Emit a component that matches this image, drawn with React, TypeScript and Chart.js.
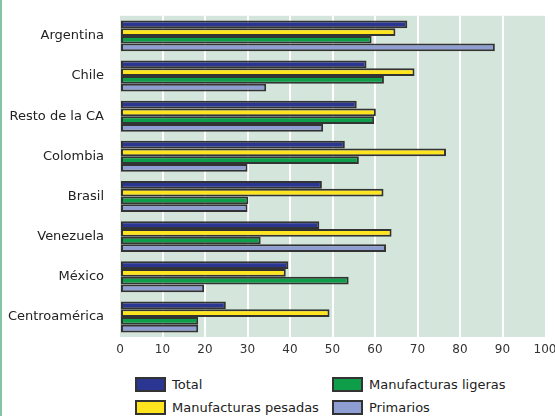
import React, { useEffect, useRef } from "react";
import { Chart, registerables } from "chart.js";

Chart.register(...registerables);

const categories = ["Argentina", "Chile", "Resto de la CA", "Colombia", "Brasil", "Venezuela", "México", "Centroamérica"];
const totalValues = [67.6, 58, 55.7, 52.9, 47.5, 46.9, 39.6, 24.9];
const pesadasValues = [64.8, 69.3, 60.2, 76.7, 62, 63.9, 39, 49.3];
const ligerasValues = [59.2, 62.1, 59.8, 56.2, 30.2, 33.1, 53.8, 18.4];
const primariosValues = [88.2, 34.4, 47.8, 30, 30, 62.6, 19.8, 18.4];
const xTicks = [0, 10, 20, 30, 40, 50, 60, 70, 80, 90, 100];

const seriesNames = ["Total", "Manufacturas pesadas", "Manufacturas ligeras", "Primarios"];
const seriesColors = ["#2B3592", "#FFE41E", "#0E9E4A", "#8E9DD2"];

const FONT = "'DejaVu Sans', sans-serif";

export default function App() {
  const ref = useRef<HTMLCanvasElement | null>(null);

  useEffect(() => {
    document.body.style.margin = "0";
    const bgPlugin = {
      id: "bg",
      beforeDraw(chart: any) {
        const { ctx, chartArea } = chart;
        ctx.save();
        ctx.fillStyle = "#D4E5DB";
        ctx.fillRect(chartArea.left, chartArea.top, chartArea.right - chartArea.left, chartArea.bottom - chartArea.top);
        ctx.restore();
      },
    };
    const values = [totalValues, pesadasValues, ligerasValues, primariosValues];
    const chart = new Chart(ref.current as HTMLCanvasElement, {
      type: "bar",
      data: {
        labels: categories,
        datasets: values.map((v, i) => ({
          label: seriesNames[i],
          data: v,
          backgroundColor: seriesColors[i],
          borderColor: "#333333",
          borderWidth: 2,
          borderSkipped: false,
          categoryPercentage: 0.77,
          barPercentage: 1,
        })),
      },
      options: {
        indexAxis: "y",
        animation: false,
        responsive: false,
        maintainAspectRatio: false,
        layout: { padding: { top: 13, right: 10, left: 0, bottom: 0 } },
        plugins: { legend: { display: false }, tooltip: { enabled: false } },
        scales: {
          x: {
            min: 0,
            max: 100,
            afterBuildTicks(scale: any) {
              scale.ticks = xTicks.map((v) => ({ value: v }));
            },
            afterFit(scale: any) {
              scale.height = 28;
              scale.paddingLeft = 0;
              scale.paddingRight = 0;
            },
            grid: {
              color: (c: any) => (c.tick && (c.tick.value === 0 || c.tick.value === 100) ? "rgba(0,0,0,0)" : "#FFFFFF"),
              lineWidth: 2,
              drawTicks: false,
            },
            border: { display: false },
            ticks: { color: "#333333", font: { family: FONT, size: 12 }, padding: 6 },
          },
          y: {
            afterFit(scale: any) {
              scale.width = 120;
            },
            grid: { display: false },
            border: { display: false },
            ticks: { color: "#222222", font: { family: FONT, size: 13 }, padding: 8 },
          },
        },
      },
      plugins: [bgPlugin],
    });
    return () => chart.destroy();
  }, []);

  const legendItems = [
    { name: seriesNames[0], color: seriesColors[0], x: 135, y: 376 },
    { name: seriesNames[2], color: seriesColors[2], x: 332, y: 376 },
    { name: seriesNames[1], color: seriesColors[1], x: 135, y: 399 },
    { name: seriesNames[3], color: seriesColors[3], x: 332, y: 399 },
  ];

  return (
    <div style={{ position: "fixed", left: 0, top: 0, width: 555, height: 416, background: "#fff", overflow: "hidden" }}>
      <canvas ref={ref} width={555} height={365} style={{ position: "absolute", left: 0, top: 0 }} />
      <div style={{ position: "absolute", left: 0, top: 0, width: 2, height: 416, background: "#86C4A9" }} />
      {legendItems.map((it) => (
        <div key={it.name} style={{ position: "absolute", left: it.x, top: it.y, display: "flex", alignItems: "center", height: 16 }}>
          <div style={{ width: 27, height: 11, background: it.color, border: "2px solid #333" }} />
          <span style={{ marginLeft: 6, fontFamily: FONT, fontSize: 13, color: "#222", whiteSpace: "nowrap" }}>{it.name}</span>
        </div>
      ))}
    </div>
  );
}
